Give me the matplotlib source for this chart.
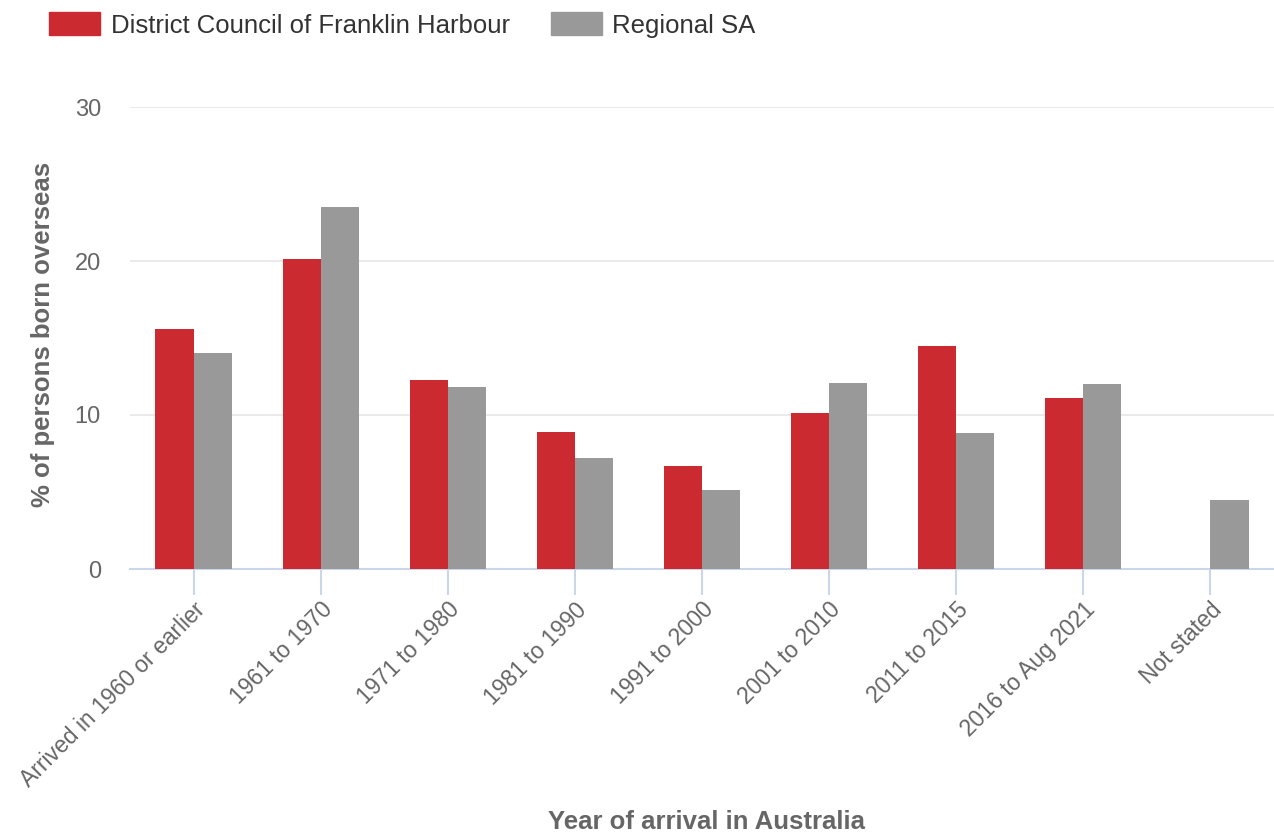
import numpy as np
import matplotlib.pyplot as plt
from matplotlib.patches import Patch

plt.rcParams['font.family'] = ['Liberation Sans', 'DejaVu Sans']

categories = ["Arrived in 1960 or earlier", "1961 to 1970", "1971 to 1980",
              "1981 to 1990", "1991 to 2000", "2001 to 2010", "2011 to 2015",
              "2016 to Aug 2021", "Not stated"]
franklin = [15.6, 20.1, 12.3, 8.9, 6.7, 10.1, 14.5, 11.1, 0.0]
regional = [14.0, 23.5, 11.8, 7.2, 5.1, 12.1, 8.8, 12.0, 4.5]
series_names = ["District Council of Franklin Harbour", "Regional SA"]

red = "#cc2a31"
grey = "#999999"
text_col = "#666666"

fig = plt.figure(figsize=(12.74, 8.32), dpi=100)
ax = fig.add_axes([130 / 1274, 1 - 569 / 832, 1 - 130 / 1274, (569 - 107) / 832])

x = np.arange(len(categories))
w = 0.3
ax.bar(x - w / 2, franklin, w, color=red, zorder=3)
ax.bar(x + w / 2, regional, w, color=grey, zorder=3)

ax.set_xlim(-0.5, len(categories) - 0.5)
ax.set_ylim(0, 30)
ax.set_yticks([0, 10, 20, 30])
ax.yaxis.grid(True, color="#e6e6e6", linewidth=1.2, zorder=0)
for s in ["top", "right", "left"]:
    ax.spines[s].set_visible(False)
ax.spines["bottom"].set_color("#ccd6eb")
ax.spines["bottom"].set_linewidth(1.5)
ax.tick_params(axis="y", length=0, pad=21, labelsize=17, labelcolor=text_col)
ax.tick_params(axis="x", length=19, width=1.5, color="#ccd6eb", pad=2,
               labelsize=16.5, labelcolor=text_col)
ax.set_xticks(x)
ax.set_xticklabels(categories, rotation=45, ha="right", rotation_mode="anchor")

ax.set_ylabel("% of persons born overseas", fontsize=18.5, fontweight="bold",
              color=text_col)
ax.yaxis.set_label_coords(-75 / 1144, 0.5 + 4 / 462)
fig.text(706 / 1274, 1 - 822 / 832, "Year of arrival in Australia", fontsize=18.5,
         fontweight="bold", color=text_col, ha="center", va="center")

handles = [Patch(color=red), Patch(color=grey)]
fig.legend(handles, series_names, loc="center left",
           bbox_to_anchor=(49 / 1274, 1 - 25 / 832),
           ncol=2, frameon=False, fontsize=18.5, handlelength=2.0, handleheight=1.0,
           handletextpad=0.4, columnspacing=1.6, borderpad=0, borderaxespad=0,
           labelcolor="#333333")

fig.savefig("out.png", dpi=100)
